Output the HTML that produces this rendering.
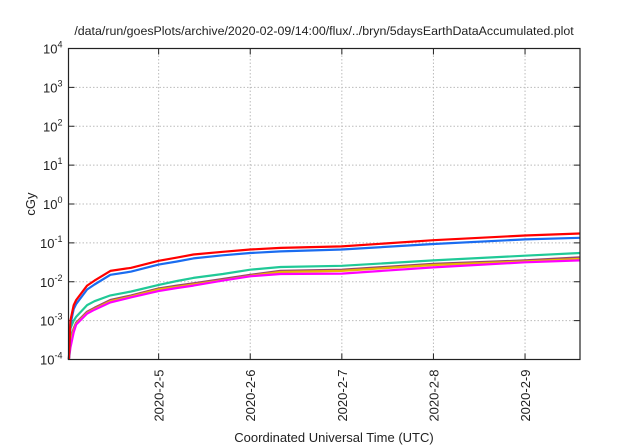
<!DOCTYPE html>
<html><head><meta charset="utf-8"><style>
body{margin:0;background:#fff}
svg{display:block;font-family:"Liberation Sans",sans-serif}
</style></head><body>
<svg id="c" width="640" height="448" viewBox="0 0 640 448">
<text x="324" y="35" font-size="12.4" text-anchor="middle" fill="#222">/data/run/goesPlots/archive/2020-02-09/14:00/flux/../bryn/5daysEarthDataAccumulated.plot</text>
<text transform="translate(35,204) rotate(-90)" font-size="13" text-anchor="middle" fill="#222">cGy</text>
<text x="334" y="442" font-size="13" text-anchor="middle" fill="#222">Coordinated Universal Time (UTC)</text>
<g id="grid"></g><g id="axes"></g><g id="series"></g>
<rect x="68.5" y="48.5" width="511.5" height="311" fill="none" stroke="#222" stroke-width="1.2"/>
</svg>
<script>
const yExps=[-4,-3,-2,-1,0,1,2,3,4];
const xTickDays=[5,6,7,8,9];
const xTickLabels=["2020-2-5","2020-2-6","2020-2-7","2020-2-8","2020-2-9"];
const days=[4.02,4.037,4.073,4.1,4.219,4.3,4.473,4.7,5,5.2,5.38,5.7,6,6.33,7,8,9,9.6];
const redLog=[-4,-3.0,-2.6,-2.47,-2.1,-1.97,-1.72,-1.64,-1.46,-1.38,-1.3,-1.23,-1.17,-1.13,-1.09,-0.93,-0.81,-0.76];
const blueLog=[-4,-3.1,-2.7,-2.57,-2.2,-2.07,-1.82,-1.74,-1.56,-1.48,-1.4,-1.32,-1.26,-1.22,-1.17,-1.03,-0.91,-0.87];
const greenLog=[-4,-3.2,-3.0,-2.9,-2.6,-2.5,-2.35,-2.25,-2.08,-1.98,-1.9,-1.8,-1.69,-1.62,-1.59,-1.45,-1.33,-1.26];
const purpleLog=[-4,-3.5,-3.2,-3.05,-2.77,-2.67,-2.47,-2.35,-2.17,-2.1,-2.04,-1.93,-1.82,-1.72,-1.69,-1.54,-1.45,-1.37];
const yellowLog=[-4,-3.55,-3.25,-3.08,-2.8,-2.7,-2.5,-2.38,-2.2,-2.13,-2.07,-1.96,-1.85,-1.75,-1.72,-1.57,-1.48,-1.41];
const magentaLog=[-4,-3.7,-3.3,-3.1,-2.82,-2.72,-2.53,-2.4,-2.24,-2.16,-2.1,-1.97,-1.86,-1.8,-1.79,-1.63,-1.5,-1.45];
const L=68.5,R=580,T=48.5,B=359.5,D0=4.016,D1=9.6;
const NS="http://www.w3.org/2000/svg";
function xS(d){return L+(d-D0)/(D1-D0)*(R-L);}
function yS(e){return B-(e+4)/8*(B-T);}
function mk(t,a,p){const e=document.createElementNS(NS,t);for(const k in a)e.setAttribute(k,a[k]);p.appendChild(e);return e;}
const grid=document.getElementById('grid'),axes=document.getElementById('axes'),ser=document.getElementById('series');
yExps.forEach(e=>{
 const y=yS(e);
 if(e>-4&&e<4){const g=mk('line',{x1:L,x2:R,y1:y,y2:y,stroke:'#bbb','stroke-dasharray':'1.5,2'},grid);
 
 }
 const t1=mk('line',{x1:L,x2:L+6,y1:y,y2:y,stroke:'#222'},axes);
 
 
 const t2=mk('line',{x1:R-6,x2:R,y1:y,y2:y,stroke:'#222'},axes);
 
 
 const tx=mk('text',{x:L-6,y:y+5,'font-size':'13','text-anchor':'end',fill:'#222'},axes);
 
 
 tx.innerHTML='10<tspan dy="-6" font-size="9">'+e+'</tspan>';
});
xTickDays.forEach((d,i)=>{
 const x=xS(d);
 const g=mk('line',{x1:x,x2:x,y1:T,y2:B,stroke:'#bbb','stroke-dasharray':'1.5,2'},grid);
 
 
 const t1=mk('line',{x1:x,x2:x,y1:B-6,y2:B,stroke:'#222'},axes);
 
 
 const t2=mk('line',{x1:x,x2:x,y1:T,y2:T+6,stroke:'#222'},axes);
 
 
 const tx=mk('text',{transform:'translate('+(x+5)+','+(B+10)+') rotate(-90)','font-size':'13','text-anchor':'end',fill:'#222'},axes);
 
 
 tx.textContent=xTickLabels[i];
});
const series=[["purple",purpleLog,'#99446e'],["yellow",yellowLog,'#e8b800'],["magenta",magentaLog,'#ff00ff'],["green",greenLog,'#20c997'],["blue",blueLog,'#1a6cf0'],["red",redLog,'#ff0000']];
series.forEach(([n,v,c])=>{
 const p=mk('polyline',{points:v.map((e,i)=>xS(days[i]).toFixed(1)+','+yS(e).toFixed(1)).join(' '),fill:'none',stroke:c,'stroke-width':'2.2','stroke-linejoin':'round'},ser);
 
 
});
</script>
</body></html>
